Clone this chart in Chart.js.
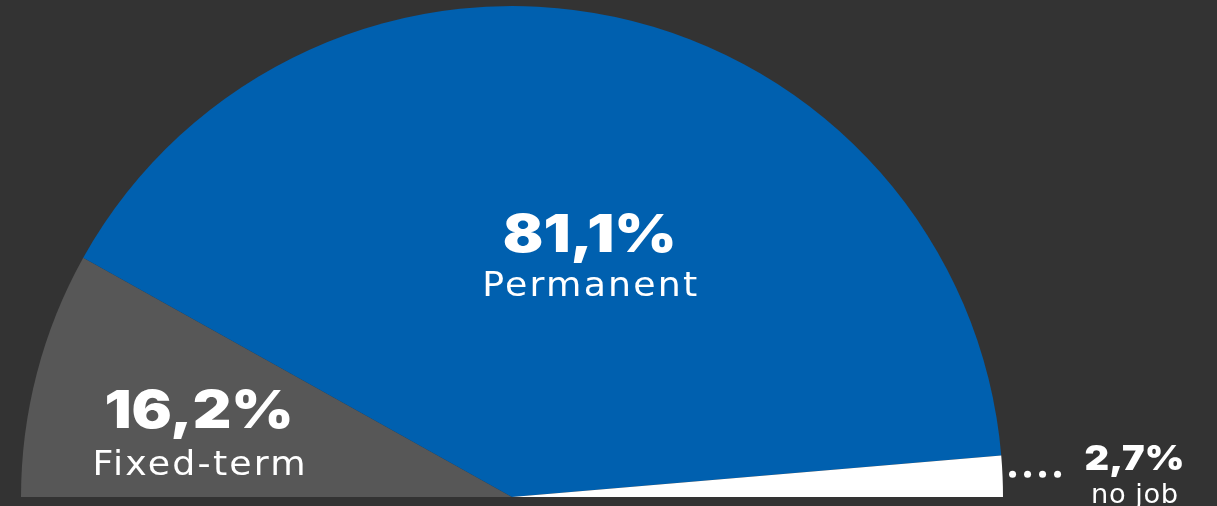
<!DOCTYPE html>
<html>
<head>
<meta charset="utf-8">
<script src="https://cdn.jsdelivr.net/npm/chart.js@4.4.1/dist/chart.umd.min.js"></script>
<style>
  html, body { margin: 0; padding: 0; background: #333333; overflow: hidden; }
  #wrap { position: relative; width: 1217px; height: 506px; }
</style>
</head>
<body>
<div id="wrap"><canvas id="chart"></canvas></div>
<script>
// Employment status shares (percent), drawn as a half doughnut
const categories = ['Fixed-term', 'Permanent', 'no job'];
const shares = [16.2, 81.1, 2.7];
const sliceColors = ['#575757', '#0060AF', '#FFFFFF'];

const fmt = v => v.toFixed(1).replace('.', ',') + '%';

// Centred text set in a wide face: horizontally stretched, with optional tracking
function wideText(ctx, text, x, y, font, stretch, spacing) {
  ctx.save();
  ctx.font = font;
  ctx.letterSpacing = spacing + 'px';
  ctx.translate(x, y);
  ctx.scale(stretch, 1);
  ctx.fillText(text, spacing / 2, 0);
  ctx.restore();
}

// Writes value + category inside the big slices, and outside with a dotted leader for the thin one
const sliceLabels = {
  id: 'sliceLabels',
  afterDatasetsDraw(chart) {
    const { ctx } = chart;
    const arcs = chart.getDatasetMeta(0).data;
    const inside = [
      { f: 0.65, dx: -4, dy: 11, gap: 47 },
      { f: 0.53, dx: 23, dy: 9, gap: 44 }
    ];
    ctx.save();
    ctx.fillStyle = '#FFFFFF';
    ctx.textAlign = 'center';
    ctx.textBaseline = 'alphabetic';
    arcs.forEach((arc, i) => {
      const { x, y, startAngle, endAngle, outerRadius } = arc.getProps(['x', 'y', 'startAngle', 'endAngle', 'outerRadius'], true);
      const mid = (startAngle + endAngle) / 2;
      if (i < 2) {
        const p = inside[i];
        const ax = x + Math.cos(mid) * outerRadius * p.f + p.dx;
        const ay = y + Math.sin(mid) * outerRadius * p.f + p.dy;
        wideText(ctx, fmt(shares[i]), ax, ay, '900 52px Inter', 1.15, 0);
        wideText(ctx, categories[i], ax, ay + p.gap, '33px "DejaVu Sans"', 1.1, 2);
      } else {
        const ex = x + Math.cos(mid) * outerRadius;
        const ey = y + Math.sin(mid) * outerRadius;
        for (let d = 0; d < 4; d++) {
          ctx.beginPath();
          ctx.arc(ex + 10 + d * 15, ey - 2, 3.5, 0, Math.PI * 2);
          ctx.fill();
        }
        const tx = ex + 132;
        wideText(ctx, fmt(shares[i]), tx, ey - 6, '900 34px Inter', 1.12, 0);
        wideText(ctx, categories[i], tx, ey + 27, '26px "DejaVu Sans"', 1.05, 0.5);
      }
    });
    ctx.restore();
  }
};

new Chart(document.getElementById('chart'), {
  type: 'doughnut',
  data: {
    labels: categories,
    datasets: [{
      data: shares,
      backgroundColor: sliceColors,
      borderWidth: 0,
      hoverOffset: 0
    }]
  },
  options: {
    responsive: true,
    maintainAspectRatio: false,
    animation: false,
    rotation: -90,
    circumference: 180,
    cutout: 0,
    layout: { padding: { left: 21, top: 6, right: 214, bottom: 9 } },
    plugins: {
      legend: { display: false },
      tooltip: { enabled: false }
    },
    events: []
  },
  plugins: [sliceLabels]
});
</script>
</body>
</html>
